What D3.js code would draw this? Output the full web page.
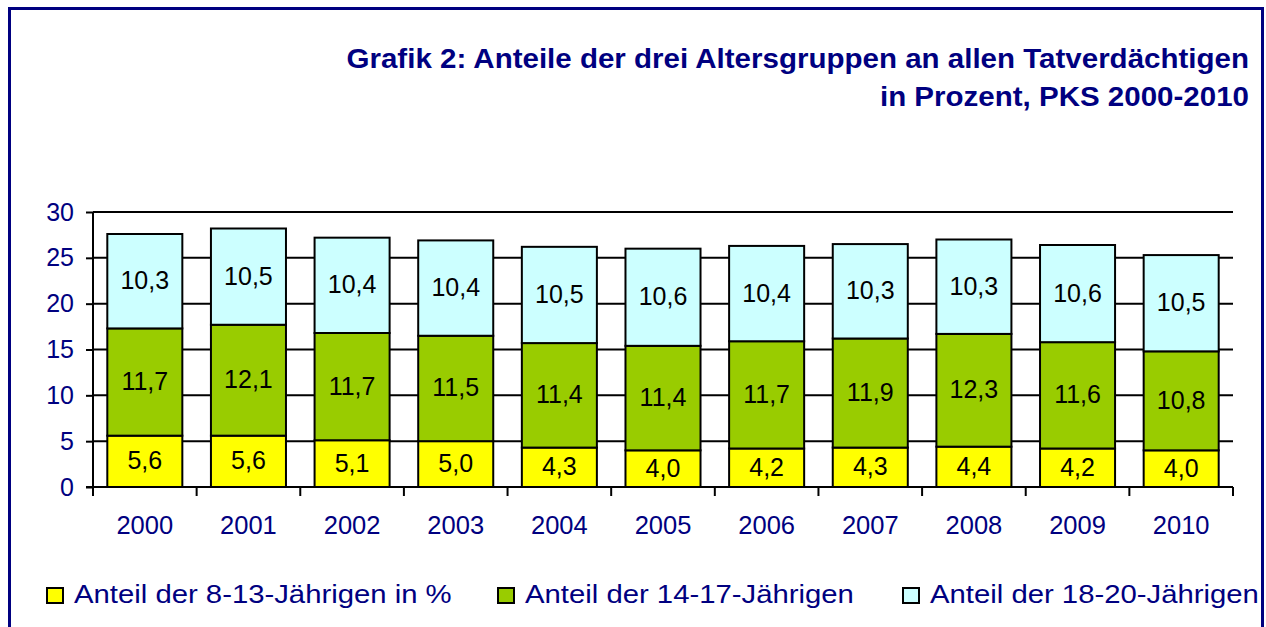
<!DOCTYPE html>
<html>
<head>
<meta charset="utf-8">
<script src="https://cdn.jsdelivr.net/npm/d3@7"></script>
<style>
  body { margin: 0; background: white; }
  text { font-family: "Liberation Sans", Arial, sans-serif; }
</style>
</head>
<body>
<script>
// values
var years = ["2000", "2001", "2002", "2003", "2004", "2005", "2006", "2007", "2008", "2009", "2010"]
var anteil8bis13 = [5.6, 5.6, 5.1, 5.0, 4.3, 4.0, 4.2, 4.3, 4.4, 4.2, 4.0]
var anteil14bis17 = [11.7, 12.1, 11.7, 11.5, 11.4, 11.4, 11.7, 11.9, 12.3, 11.6, 10.8]
var anteil18bis20 = [10.3, 10.5, 10.4, 10.4, 10.5, 10.6, 10.4, 10.3, 10.3, 10.6, 10.5]
var seriesNames = ["Anteil der 8-13-Jährigen in %", "Anteil der 14-17-Jährigen", "Anteil der 18-20-Jährigen"]
var titleLines = ["Grafik 2: Anteile der drei Altersgruppen an allen Tatverdächtigen", "in Prozent, PKS 2000-2010"]
var yTicks = [0, 5, 10, 15, 20, 25, 30]

var colors = ["#ffff00", "#99cc00", "#ccffff"]
var navy = "#000080"

var svg = d3.select("body").append("svg")
	.attr("width", 1266).attr("height", 627)

// the original text is a bit wider than Arial, stretch it a little
function widen(sel, factor) {
	sel.each(function() {
		var w = this.getComputedTextLength()
		d3.select(this).attr("textLength", w * factor).attr("lengthAdjust", "spacingAndGlyphs")
	})
}

// frame
svg.append("rect").attr("x", 9.5).attr("y", 8.5).attr("width", 1253).attr("height", 700)
	.attr("fill", "none").attr("stroke", navy).attr("stroke-width", 3)

// title
svg.append("g").selectAll("text").data(titleLines).enter().append("text")
	.attr("x", 1249).attr("y", function(d, i) { return 68 + i * 38 })
	.attr("text-anchor", "end").attr("fill", navy)
	.attr("font-weight", "bold").attr("font-size", 27)
	.text(function(d) { return d })
	.call(widen, 1.093)

var x = d3.scaleBand().domain(years).range([93, 1233]).paddingInner(0.276).paddingOuter(0.138)
var y = d3.scaleLinear().domain([0, 30]).range([487, 212])

// gridlines
svg.append("g").selectAll("line").data(yTicks.slice(1)).enter().append("line")
	.attr("x1", 93).attr("x2", 1233)
	.attr("y1", function(d) { return y(d) }).attr("y2", function(d) { return y(d) })
	.attr("stroke", "black").attr("stroke-width", 2)

// stack the data
var table = years.map(function(yr, i) {
	return { year: yr, a: anteil8bis13[i], b: anteil14bis17[i], c: anteil18bis20[i] }
})
var stack = d3.stack().keys(["a", "b", "c"])(table)

var layers = svg.append("g").selectAll("g").data(stack).enter().append("g")
	.attr("fill", function(d, i) { return colors[i] })

layers.selectAll("rect").data(function(d) { return d }).enter().append("rect")
	.attr("x", function(d) { return x(d.data.year) })
	.attr("width", x.bandwidth())
	.attr("y", function(d) { return y(d[1]) })
	.attr("height", function(d) { return y(d[0]) - y(d[1]) })
	.attr("stroke", "black").attr("stroke-width", 2)

layers.selectAll("text").data(function(d) { return d }).enter().append("text")
	.attr("x", function(d) { return x(d.data.year) + x.bandwidth() / 2 })
	.attr("y", function(d) { return (y(d[0]) + y(d[1])) / 2 - 1 })
	.attr("text-anchor", "middle").attr("dominant-baseline", "central")
	.attr("font-size", 25).attr("fill", "black")
	.text(function(d) { return (d[1] - d[0]).toFixed(1).replace(".", ",") })

// axes
var yAxis = svg.append("g").attr("transform", "translate(93,0)")
	.call(d3.axisLeft(y).tickValues(yTicks).tickSize(7).tickSizeOuter(0).tickPadding(12))
yAxis.select(".domain").attr("stroke", "black").attr("stroke-width", 2).attr("d", "M0,212V496")
yAxis.selectAll(".tick line").attr("stroke", "black").attr("stroke-width", 2)
yAxis.selectAll(".tick text").attr("fill", navy).attr("font-size", 25)
	.attr("font-family", "Liberation Sans, Arial, sans-serif")

// x axis base line and boundary ticks
var xAxis = svg.append("g")
xAxis.append("line").attr("x1", 86).attr("x2", 1233).attr("y1", y(0)).attr("y2", y(0))
	.attr("stroke", "black").attr("stroke-width", 2)
var bounds = d3.range(years.length + 1).map(function(i) { return 93 + i * x.step() })
xAxis.selectAll("line.b").data(bounds).enter().append("line").attr("class", "b")
	.attr("x1", function(d) { return d }).attr("x2", function(d) { return d })
	.attr("y1", y(0)).attr("y2", y(0) + 9)
	.attr("stroke", "black").attr("stroke-width", 2)
xAxis.selectAll("text").data(years).enter().append("text")
	.attr("x", function(d) { return x(d) + x.bandwidth() / 2 }).attr("y", 534)
	.attr("text-anchor", "middle").attr("fill", navy).attr("font-size", 25.5)
	.text(function(d) { return d })

// legend
var legendX = [47, 498, 903]
var legend = svg.append("g").selectAll("g").data(seriesNames).enter().append("g")
	.attr("transform", function(d, i) { return "translate(" + legendX[i] + ",0)" })
legend.append("rect").attr("x", 0).attr("y", 588).attr("width", 16).attr("height", 15)
	.attr("fill", function(d, i) { return colors[i] }).attr("stroke", "black").attr("stroke-width", 2)
legend.append("text").attr("x", 27).attr("y", 603).attr("fill", navy).attr("font-size", 26.5)
	.text(function(d) { return d })
	.call(widen, 1.105)
</script>
</body>
</html>
